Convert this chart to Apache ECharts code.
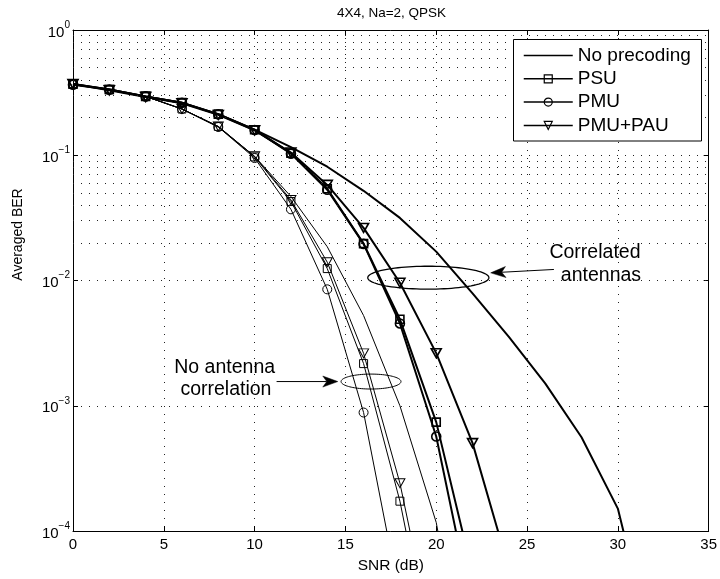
<!DOCTYPE html>
<html><head><meta charset="utf-8">
<script src="https://cdn.jsdelivr.net/npm/echarts@6/dist/echarts.min.js"></script>
<style>html,body{margin:0;padding:0;background:#fff}#c{width:720px;height:579px}</style>
</head><body><div id="c"></div>
<script>
// ---- data (SNR in dB, BER) ----
const snrNoPrecCorr = [0,2,4,6,8,10,12,14,16,18,20,22,24,26,28,30,32];
const berNoPrecCorr = [0.37,0.335,0.295,0.263,0.213,0.160,0.116,0.081,0.052,0.0316,0.017,0.0079,0.00355,0.00151,0.00056,0.000151,0.00001];
const snrPsuCorr = [0,2,4,6,8,10,12,14,16,18,20,22];
const berPsuCorr = [0.37,0.335,0.295,0.263,0.213,0.160,0.104,0.054,0.0197,0.0049,0.00074,0.0000457];
const snrPmuCorr = [0,2,4,6,8,10,12,14,16,18,20,22];
const berPmuCorr = [0.365,0.335,0.295,0.262,0.212,0.159,0.103,0.053,0.0196,0.00454,0.000568,0.0000229];
const snrPauCorr = [0,2,4,6,8,10,12,14,16,18,20,22,24];
const berPauCorr = [0.37,0.33,0.292,0.26,0.21,0.158,0.105,0.058,0.0263,0.0096,0.00263,0.000503,0.00005];

const snrNoPrecUnc = [0,2,4,6,8,10,12,14,16,18,20,22];
const berNoPrecUnc = [0.37,0.333,0.295,0.234,0.168,0.098,0.0468,0.0186,0.00525,0.001,0.000117,0.0000032];
const snrPsuUnc = [0,2,4,6,8,10,12,14,16,18,20];
const berPsuUnc = [0.37,0.333,0.295,0.234,0.170,0.097,0.0427,0.01245,0.00217,0.000173,0.0000063];
const snrPmuUnc = [0,2,4,6,8,10,12,14,16,18];
const berPmuUnc = [0.37,0.333,0.295,0.234,0.168,0.095,0.037,0.0085,0.000883,0.000029];
const snrPauUnc = [0,2,4,6,8,10,12,14,16,18,20];
const berPauUnc = [0.37,0.333,0.295,0.234,0.170,0.098,0.044,0.014,0.00262,0.000241,0.00001];

const legendNames = ['No precoding','PSU','PMU','PMU+PAU'];
const xTicks = {min:0, max:35, interval:5};
const yRange = {min:1e-4, max:1};
const minorMultipliers = [2,3,4,5,6,7,8,9];
const minorDecades = [-4,-3,-2,-1];

// annotation anchors in data coordinates
const corrEllipse = {x0:16.23, x1:22.9, y0:0.0130, y1:0.00853};
const corrArrow = {tail:[26.48,0.01225], tip:[23.0,0.01151]};
const corrText = [{t:'Correlated', p:[28.74,0.0167]}, {t:'antennas', p:[29.07,0.01096]}];
const uncEllipse = {x0:14.76, x1:18.06, y0:0.00179, y1:0.00136};
const uncArrow = {tail:[11.21,0.00156], tip:[14.58,0.00156]};
const uncText = [{t:'No antenna', p:[8.35,0.00203]}, {t:'correlation', p:[8.42,0.00135]}];

const FONT = '"Liberation Sans", Arial, Helvetica, sans-serif';
const zip = (xs, ys) => xs.map((x, i) => [x, ys[i]]);

function mkSeries(name, xs, ys, symbol, thick) {
  return {
    type:'line', name, data: zip(xs, ys),
    symbol, symbolSize: symbol === 'rect' ? 8 : (symbol === 'circle' ? 9 : [10, 9]),
    symbolRotate: symbol === 'triangle' ? 180 : 0,
    showSymbol: symbol !== 'none',
    lineStyle: {color:'#000', width: thick ? 2 : 1},
    itemStyle: {color:'transparent', borderColor:'#000', borderWidth: thick ? 1.6 : 1},
    emphasis: {disabled:true}, silent:true, clip:true, z: 3
  };
}

const minorVals = [];
minorDecades.forEach(d => minorMultipliers.forEach(m => minorVals.push(m * Math.pow(10, d))));

const supFmt = v => {
  const e = Math.round(Math.log10(v));
  return '{b|10}{s|' + (e < 0 ? '\u2212' + (-e) : e) + '}';
};

const dotted = {color:'#222', width:1, type:[1,7]};

const option = {
  animation:false,
  textStyle:{fontFamily:FONT, color:'#000'},
  title:{text:'4X4, Na=2, QPSK', left:391.5, top:6, textAlign:'center', padding:0,
    textStyle:{fontSize:13.5, fontWeight:'normal', color:'#000', fontFamily:FONT}},
  grid:{left:73, right:10, top:30, bottom:47, show:false},
  legend:{
    data:[{name:legendNames[0], itemStyle:{opacity:0}}, legendNames[1], legendNames[2], legendNames[3]],
    orient:'vertical', left:523, top:46, padding:0, z:10,
    itemWidth:49, itemHeight:10, itemGap:4.3,
    textStyle:{fontSize:19, color:'#000', fontFamily:FONT},
    lineStyle:{width:1.5}, itemStyle:{borderWidth:1.2},
    selectedMode:false
  },
  xAxis:[
    {type:'value', position:'bottom', min:xTicks.min, max:xTicks.max, interval:xTicks.interval,
     name:'SNR (dB)', nameLocation:'middle', nameGap:27,
     nameTextStyle:{fontSize:15.5, color:'#000', fontFamily:FONT},
     axisLine:{show:true, onZero:false, lineStyle:{color:'#000', width:1}},
     axisTick:{show:true, inside:true, length:5, lineStyle:{color:'#000'}},
     axisLabel:{fontSize:15, color:'#000', margin:6, fontFamily:FONT},
     splitLine:{show:true, lineStyle:dotted}},
    {type:'value', position:'top', min:xTicks.min, max:xTicks.max, interval:xTicks.interval,
     axisLine:{show:true, onZero:false, lineStyle:{color:'#000', width:1}},
     axisTick:{show:true, inside:true, length:5, lineStyle:{color:'#000'}},
     axisLabel:{show:false}, splitLine:{show:false}}
  ],
  yAxis:[
    {type:'log', logBase:10, position:'left', min:yRange.min, max:yRange.max,
     name:'Averaged BER', nameLocation:'middle', nameGap:48, nameRotate:90,
     nameTextStyle:{fontSize:14, color:'#000', fontFamily:FONT, padding:[0,0,0,92]},
     axisLine:{show:true, onZero:false, lineStyle:{color:'#000', width:1}},
     axisTick:{show:true, inside:true, length:5, lineStyle:{color:'#000'}},
     axisLabel:{formatter:supFmt, margin:3, color:'#000',
       rich:{b:{fontSize:15, verticalAlign:'bottom', lineHeight:20, fontFamily:FONT, color:'#000'},
             s:{fontSize:10, verticalAlign:'top', lineHeight:12, fontFamily:FONT, color:'#000'}}},
     splitLine:{show:true, lineStyle:dotted}},
    {type:'log', logBase:10, position:'right', min:yRange.min, max:yRange.max,
     axisLine:{show:true, onZero:false, lineStyle:{color:'#000', width:1}},
     axisTick:{show:true, inside:true, length:5, lineStyle:{color:'#000'}},
     axisLabel:{show:false}, splitLine:{show:false}}
  ],
  series:[
    {type:'line', name:'_minorGrid', data:[], silent:true, z:1,
     markLine:{silent:true, symbol:['none','none'], label:{show:false}, animation:false,
       lineStyle:dotted, emphasis:{disabled:true},
       data: minorVals.map(v => ({yAxis:v}))}},
    mkSeries('No precoding', snrNoPrecCorr, berNoPrecCorr, 'none', true),
    mkSeries('PSU', snrPsuCorr, berPsuCorr, 'rect', true),
    mkSeries('PMU', snrPmuCorr, berPmuCorr, 'circle', true),
    mkSeries('PMU+PAU', snrPauCorr, berPauCorr, 'triangle', true),
    mkSeries('No precoding', snrNoPrecUnc, berNoPrecUnc, 'none', false),
    mkSeries('PSU', snrPsuUnc, berPsuUnc, 'rect', false),
    mkSeries('PMU', snrPmuUnc, berPmuUnc, 'circle', false),
    mkSeries('PMU+PAU', snrPauUnc, berPauUnc, 'triangle', false)
  ]
};

const chart = echarts.init(document.getElementById('c'));
chart.setOption(option);

const P = (x, y) => chart.convertToPixel({gridIndex:0}, [x, y]);

function ellipsePts(e) {
  const a = P(e.x0, e.y0), b = P(e.x1, e.y1);
  const cx = (a[0] + b[0]) / 2, cy = (a[1] + b[1]) / 2;
  const rx = Math.abs(b[0] - a[0]) / 2, ry = Math.abs(b[1] - a[1]) / 2;
  const pts = [];
  for (let i = 0; i < 96; i++) {
    const t = i / 96 * Math.PI * 2;
    pts.push([cx + rx * Math.cos(t), cy + ry * Math.sin(t)]);
  }
  return pts;
}
function arrowEls(a) {
  const t = P(a.tail[0], a.tail[1]), p = P(a.tip[0], a.tip[1]);
  const dx = p[0] - t[0], dy = p[1] - t[1], L = Math.hypot(dx, dy);
  const ux = dx / L, uy = dy / L, nx = -uy, ny = ux;
  const len = 15, w = 5.5, notch = 4;
  const head = [
    [p[0], p[1]],
    [p[0] - len*ux + w*nx, p[1] - len*uy + w*ny],
    [p[0] - (len-notch)*ux, p[1] - (len-notch)*uy],
    [p[0] - len*ux - w*nx, p[1] - len*uy - w*ny]
  ];
  return [
    {type:'line', silent:true, shape:{x1:t[0], y1:t[1], x2:p[0]-(len-notch)*ux, y2:p[1]-(len-notch)*uy},
     style:{stroke:'#000', lineWidth:1}},
    {type:'polygon', silent:true, shape:{points:head}, style:{fill:'#000', stroke:'#000', lineWidth:0.5}}
  ];
}
function textEls(list) {
  return list.map(o => {
    const q = P(o.p[0], o.p[1]);
    return {type:'text', silent:true, x:q[0], y:q[1],
      style:{text:o.t, fill:'#000', fontSize:19.5, fontFamily:FONT, align:'center', verticalAlign:'middle'}};
  });
}

// legend frame (box around the legend component)
const legendFrame = {type:'rect', silent:true, z:5,
  shape:{x:513.5, y:39.5, width:188, height:101.5},
  style:{fill:'#fff', stroke:'#000', lineWidth:1}};

const graphics = [
  legendFrame,
  {type:'polygon', silent:true, shape:{points:ellipsePts(corrEllipse)}, style:{fill:'none', stroke:'#000', lineWidth:1.3}},
  {type:'polygon', silent:true, shape:{points:ellipsePts(uncEllipse)}, style:{fill:'none', stroke:'#000', lineWidth:1}},
  ...arrowEls(corrArrow), ...arrowEls(uncArrow),
  ...textEls(corrText), ...textEls(uncText)
];
chart.setOption({graphic:graphics});
</script>
</body></html>
